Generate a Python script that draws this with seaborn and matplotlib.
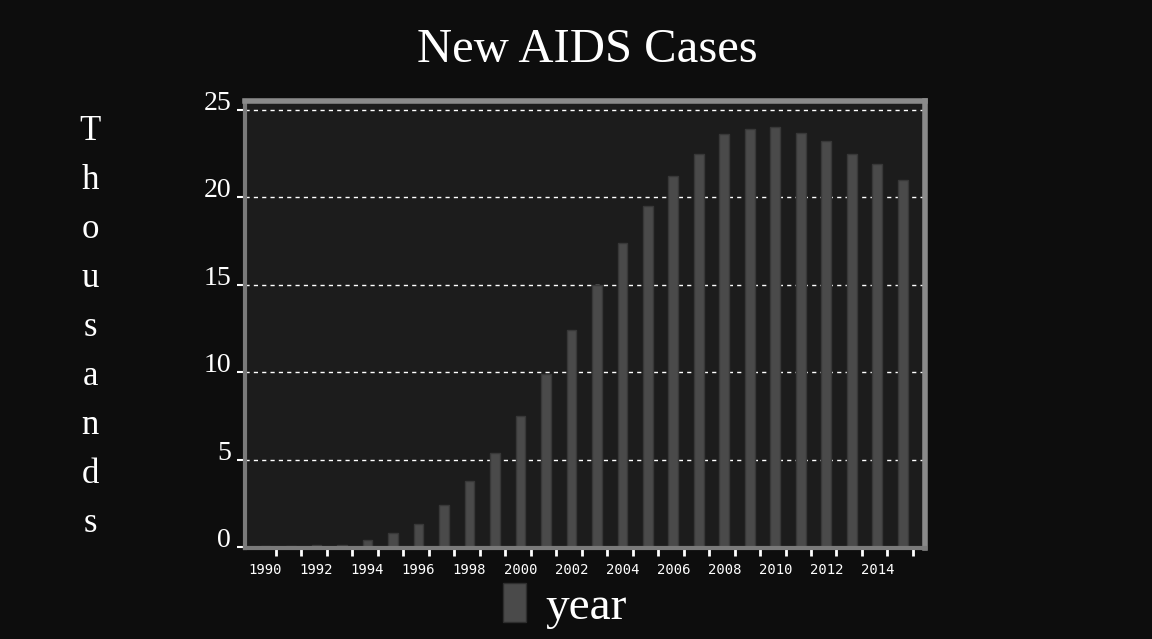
import matplotlib
matplotlib.use("Agg")
import matplotlib.pyplot as plt
from matplotlib.patches import Patch
import seaborn as sns

# New AIDS cases, thousands
years = list(range(1990, 2016))
cases = [0.05, 0.05, 0.1, 0.15, 0.4, 0.8, 1.35, 2.4, 3.8, 5.4,
         7.5, 9.9, 12.4, 15.0, 17.4, 19.5, 21.2, 22.5, 23.6, 23.9,
         24.0, 23.7, 23.2, 22.5, 21.9, 21.0]
yticks = [0, 5, 10, 15, 20, 25]
ylabel = "Thousands"

sns.set_style("dark")
plt.rcParams["font.family"] = ["Liberation Serif", "DejaVu Serif"]

fig = plt.figure(figsize=(11.52, 6.39), dpi=100, facecolor="#0d0d0d")
ax = fig.add_axes([0.2127, 0.1424, 0.590, 0.6995])
ax.set_facecolor("#1c1c1c")

sns.barplot(x=years, y=cases, color="#4a4a4a", saturation=1, width=0.38,
            linewidth=1, edgecolor="#383838", ax=ax)

ax.set_xlim(-0.8, 25.86)
ax.set_ylim(-0.05, 25.5)

ax.set_yticks(yticks)
ax.set_yticklabels([str(t) for t in yticks], fontsize=20, color="white",
                   va="baseline")
ax.set_xticks(range(len(years)))
ax.set_xticklabels([str(y) if y % 2 == 0 else "" for y in years],
                   fontsize=10, color="white", family="DejaVu Sans Mono")
ax.set_xticks([i + 0.4 for i in range(len(years))], minor=True)
ax.tick_params(left=True, bottom=True)
ax.tick_params(axis="y", which="major", colors="white", length=6, width=1.5,
               pad=4)
ax.tick_params(axis="x", which="major", colors="white", length=0, pad=11)
ax.tick_params(axis="x", which="minor", bottom=True, colors="white",
               length=6, width=2)

ax.grid(False)
for t in yticks[1:]:
    ax.axhline(t, color="white", lw=1, ls=(0, (3, 3)), zorder=0.5)

for side in ["top", "right"]:
    ax.spines[side].set_color("#8a8a8a")
    ax.spines[side].set_linewidth(4)
for side in ["left", "bottom"]:
    ax.spines[side].set_color("#7a7a7a")
    ax.spines[side].set_linewidth(3)

ax.set_xlabel("")
ax.set_ylabel("")

fig.text(0.5095, 0.922, "New AIDS Cases", ha="center", va="center",
         fontsize=35, color="white")

for i, ch in enumerate(ylabel):
    fig.text(90 / 1152, 1 - (140 + 49 * i) / 639, ch, ha="center",
             va="baseline", fontsize=25, color="white")

ax.legend(handles=[Patch(facecolor="#4a4a4a", edgecolor="#2e2e2e")],
          labels=["year"], loc="center", bbox_to_anchor=(0.49, 0.052),
          bbox_transform=fig.transFigure, frameon=False, fontsize=34,
          labelcolor="white", handlelength=0.5, handleheight=0.9,
          handletextpad=0.4)

fig.savefig("out.png", dpi=100, facecolor=fig.get_facecolor())
